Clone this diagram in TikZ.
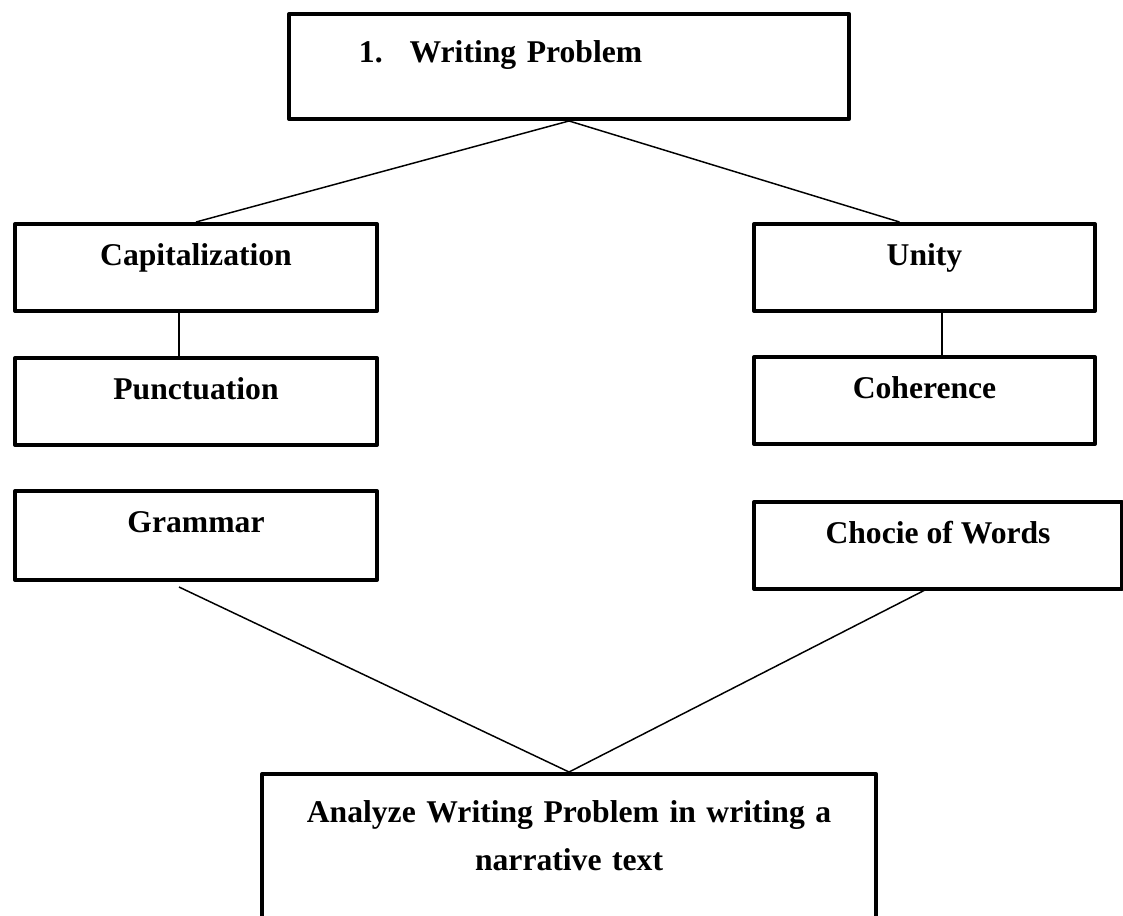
\documentclass[tikz,border=0pt]{standalone}
\usepackage{fontspec}
\setmainfont{Liberation Serif}
\usetikzlibrary{calc}

\begin{document}
\begin{tikzpicture}[
  x=0.025cm, y=-0.025cm,
  box/.style={draw, line width=2.8pt, line join=round, inner sep=0pt,
    font=\fontsize{22.5pt}{34pt}\selectfont\bfseries, align=center},
  topic/.style={box, anchor=north west, text height=1.05cm, text depth=1.125cm},
  link/.style={line width=1.05pt},
]
  \useasboundingbox (0,0) rectangle (1123,915);

  %% Problem
  \node[box, anchor=north west, inner xsep=1.75cm, text width=10.5cm, align=left,
    text height=1.2125cm, text depth=1.4125cm] (prob) at (287,12)
    {1.\hspace{0.85em}Writing Problem};

  %% Left column
  \node[topic, minimum width=9.05cm] (cap) at (13,222) {Capitalization};
  \node[topic, minimum width=9.05cm] (punct) at (13,356) {Punctuation};
  \node[topic, minimum width=9.05cm, text depth=1.175cm] (gram) at (13,489) {Grammar};

  %% Right column
  \node[topic, minimum width=8.525cm] (unity) at (752,222) {Unity};
  \node[topic, minimum width=8.525cm] (coh) at (752,355) {Coherence};
  \node[topic, minimum width=9.2cm] (words) at (752,500) {Chocie of Words};

  %% Goal
  \node[box, anchor=north west, text width=15.35cm, text height=1.2125cm,
    text depth=2.86cm] (goal) at (260,772)
    {Analyze Writing Problem in writing a\\ narrative text};

  %% Connectors
  \draw[link] (prob.south) -- (cap.north);
  \draw[link] (prob.south) -- ($(unity.north)+(-25,0)$);
  \draw[line width=1.9pt] (cap.south -| 179,0) -- (punct.north -| 179,0);
  \draw[line width=0.9pt] (unity.south -| 942,0) -- (coh.north -| 942,0);

  \coordinate (gtail) at (179,587);
  \coordinate (wtail) at (925,590);
  \draw[link] (gtail) -- (goal.north);
  \draw[link] (wtail) -- (goal.north);
\end{tikzpicture}
\end{document}
